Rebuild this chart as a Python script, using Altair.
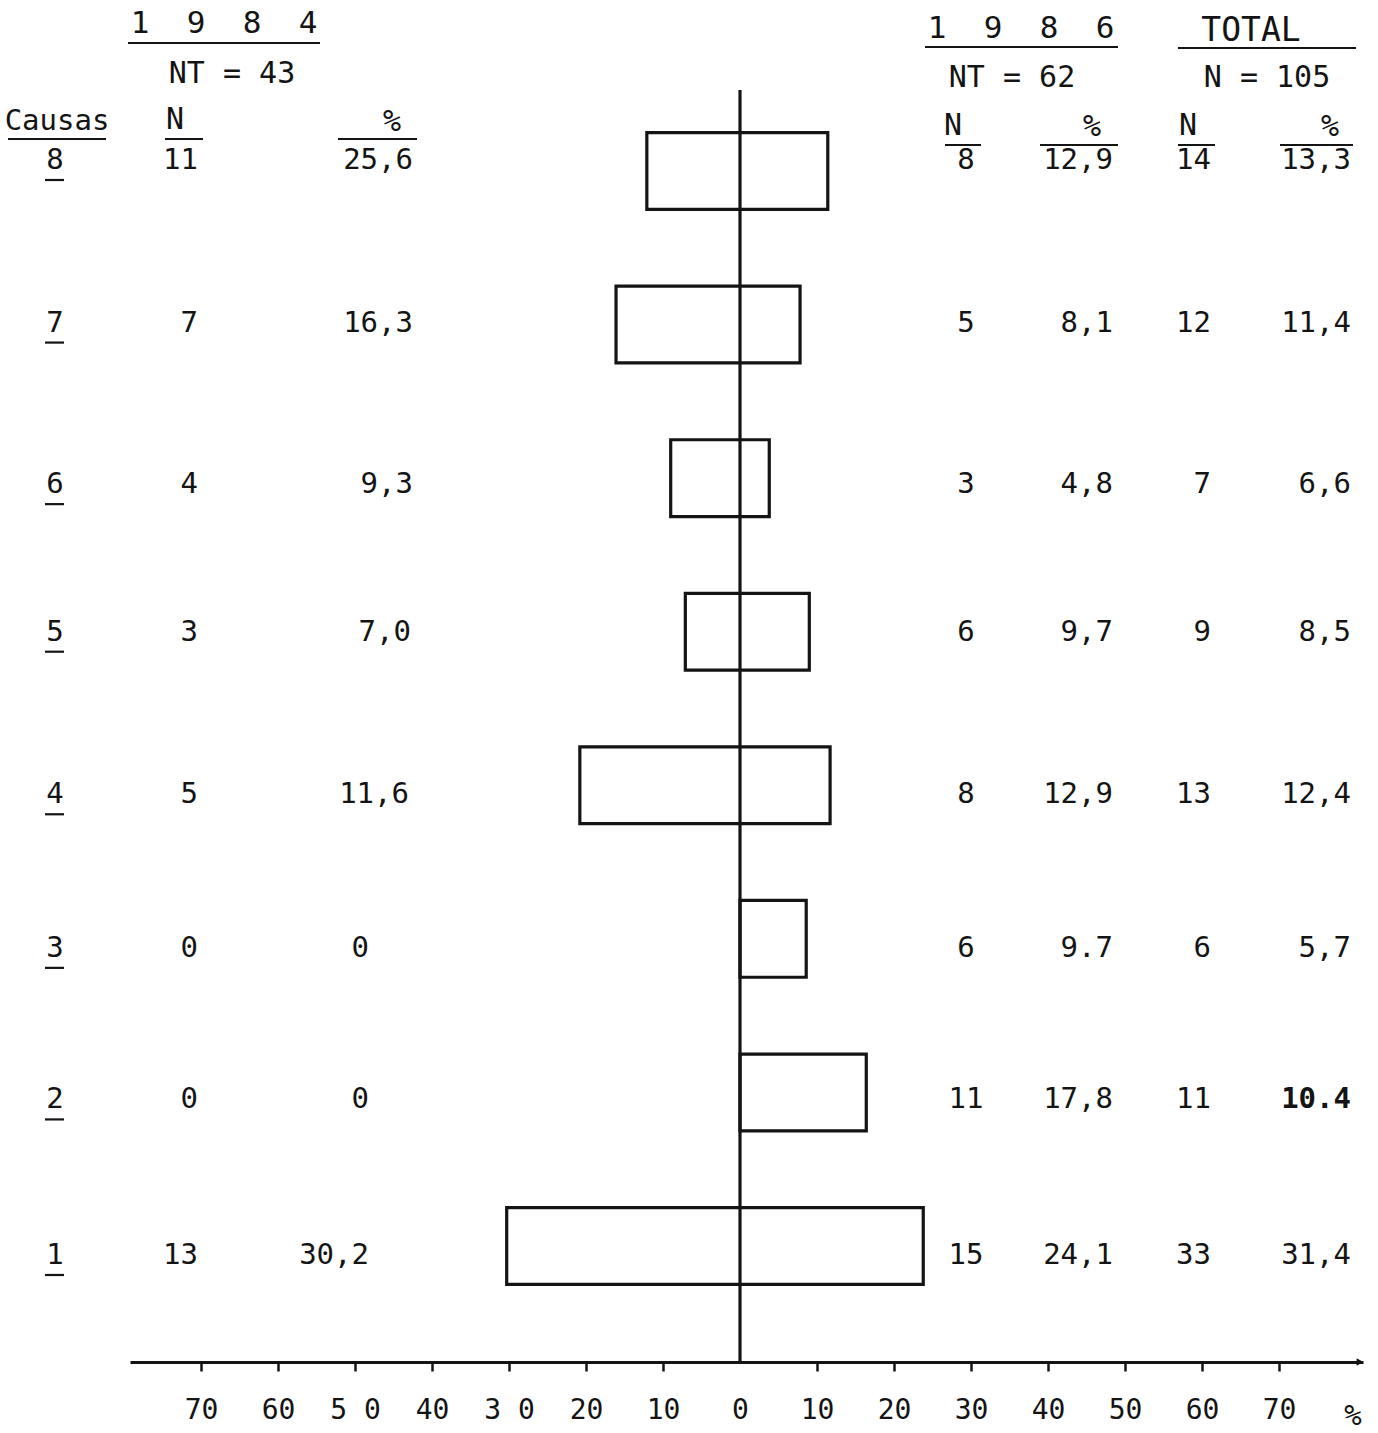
import altair as alt
import pandas as pd

# ---------------- data ----------------
causes = [8, 7, 6, 5, 4, 3, 2, 1]
n_1984 = ["11", "7", "4", "3", "5", "0", "0", "13"]
pct_1984 = ["25,6", "16,3", "9,3", "7,0", "11,6", "0", "0", "30,2"]
n_1986 = ["8", "5", "3", "6", "8", "6", "11", "15"]
pct_1986 = ["12,9", "8,1", "4,8", "9,7", "12,9", "9.7", "17,8", "24,1"]
n_total = ["14", "12", "7", "9", "13", "6", "11", "33"]
pct_total = ["13,3", "11,4", "6,6", "8,5", "12,4", "5,7", "10.4", "31,4"]
bold_total = [False, False, False, False, False, False, True, False]
# bar lengths as drawn (percent units)
bar_1984 = [12.1, 16.1, 9.0, 7.1, 20.8, 0.0, 0.0, 30.3]
bar_1986 = [11.4, 7.8, 3.8, 9.0, 11.7, 8.6, 16.4, 23.8]
tick_values = [-70, -60, -50, -40, -30, -20, -10, 0, 10, 20, 30, 40, 50, 60, 70]
NB = "\u00a0"
header_texts = [NB.join("1  9  8  4".split(" ")), "NT = 43".replace(" ", NB), "Causas", "N", "%",
                NB.join("1  9  8  6".split(" ")), "NT = 62".replace(" ", NB), "TOTAL",
                "N = 105".replace(" ", NB), "N", "%", "N", "%"]

# ---------------- layout (pixels of the page) ----------------
ZERO_PX, PPU = 740, 7.7
LEFT_PX, RIGHT_PX, AXIS_PX = 130, 1363, 1362
ROW8_PX, ROW_STEP = 171, 153.57
W, H = RIGHT_PX - LEFT_PX, AXIS_PX
FONT = "DejaVu Sans Mono"
INK = "#141414"
CELL_SIZE = 29


def xd(px):
    return (px - ZERO_PX) / PPU


def yd(px):
    return 8 - (px - ROW8_PX) / ROW_STEP


def row_px(c):
    return ROW8_PX + (8 - c) * ROW_STEP


text_dy = {8: -11, 7: -2, 6: 6, 5: 0, 4: 9, 3: 9, 2: 7, 1: 9}

xs = alt.Scale(domain=[xd(LEFT_PX), xd(RIGHT_PX)], nice=False, zero=False)
ys = alt.Scale(domain=[yd(AXIS_PX), yd(0)], nice=False, zero=False)

label_expr = ("datum.value == -50 ? '5\u00a00' : datum.value == -30 ? '3\u00a00' : "
              "format(abs(datum.value), 'd')")
x_axis = alt.Axis(
    values=tick_values, labelExpr=label_expr, title=None, grid=False,
    domain=True, domainColor=INK, domainWidth=3.2,
    ticks=True, tickColor=INK, tickWidth=2.5, tickSize=9,
    tickOpacity={"condition": {"test": "datum.value === 0", "value": 0}, "value": 1},
    labelFont=FONT, labelFontSize=28, labelColor=INK, labelPadding=25,
    labelFlush=False, labelOverlap=False)


def X(field):
    return alt.X(field, scale=xs, axis=x_axis)


def Y(field):
    return alt.Y(field, scale=ys, axis=None)


# ---------------- bars ----------------
bars_df = pd.DataFrame({
    "cause": causes,
    "left": [-v for v in bar_1984],
    "right": bar_1986,
})
bars_df["ylo"] = bars_df["cause"] - 0.25
bars_df["yhi"] = bars_df["cause"] + 0.25

bars = alt.Chart(bars_df).mark_rect(
    fill="white", fillOpacity=0, stroke=INK, strokeWidth=3.2
).encode(x=X("left:Q"), x2="right:Q", y=Y("ylo:Q"), y2="yhi:Q")

# vertical zero line
vline = alt.Chart(pd.DataFrame({"x": [0.0], "y1": [yd(90)], "y2": [yd(AXIS_PX)]})).mark_rule(
    color=INK, strokeWidth=3.2
).encode(x=X("x:Q"), y=Y("y1:Q"), y2="y2:Q")

# arrow head at right end of axis
arrow = alt.Chart(pd.DataFrame({"x": [xd(RIGHT_PX - 3)], "y": [yd(AXIS_PX)]})).mark_point(
    shape="triangle-right", filled=True, color=INK, size=60, opacity=1
).encode(x=X("x:Q"), y=Y("y:Q"))

# ---------------- table text ----------------
columns = [
    ([str(c) for c in causes], 55, "center"),
    (n_1984, 198, "right"),
    (n_1986, 966, "center"),
    (pct_1986, 1113, "right"),
    (n_total, 1211, "right"),
]
rows = []
for vals, xpx, align in columns:
    for c, v in zip(causes, vals):
        rows.append({"t": v, "x": xd(xpx), "y": yd(row_px(c) + text_dy[c]), "align": align})
pct84_right = {8: 413, 7: 413, 6: 413, 5: 411, 4: 409, 3: 369, 2: 369, 1: 369}
for c, v in zip(causes, pct_1984):
    rows.append({"t": v, "x": xd(pct84_right[c]), "y": yd(row_px(c) + text_dy[c]), "align": "right"})
cells = pd.DataFrame(rows)

tot = pd.DataFrame({
    "t": pct_total,
    "x": [xd(1351)] * 8,
    "y": [yd(row_px(c) + text_dy[c]) for c in causes],
    "b": bold_total,
})


def text_layer(df, align, size=CELL_SIZE, weight="normal"):
    return alt.Chart(df).mark_text(
        font=FONT, fontSize=size, color=INK, align=align, baseline="middle",
        fontWeight=weight
    ).encode(x=X("x:Q"), y=Y("y:Q"), text="t:N")


cell_layers = [text_layer(cells[cells["align"] == a], a) for a in ["center", "right"]]
cell_layers.append(text_layer(tot[~tot["b"]], "right"))
cell_layers.append(text_layer(tot[tot["b"]], "right", weight="bold"))

# ---------------- headers ----------------
hdr_pos = [  # x px, y px, size
    (224, 24, 31), (232, 74, 30), (57, 121, 29), (175, 120, 30), (392, 122, 30),
    (1021, 29, 31), (1012, 78, 30), (1251, 31, 33), (1267, 78, 30),
    (953, 126, 30), (1092, 127, 30), (1188, 126, 30), (1330, 127, 30),
]
hdr = pd.DataFrame({
    "t": header_texts,
    "x": [xd(p[0]) for p in hdr_pos],
    "y": [yd(p[1]) for p in hdr_pos],
    "s": [p[2] for p in hdr_pos],
})
hdr_layers = [text_layer(hdr[hdr["s"] == s], "center", size=s) for s in sorted(set(hdr["s"]))]

ul = [(128, 320, 43), (8, 106, 139), (165, 203, 139), (338, 417, 139),
      (925, 1118, 47), (1178, 1356, 48), (945, 981, 145), (1040, 1118, 145),
      (1178, 1215, 145), (1280, 1353, 145)]
ul_rows = [{"x1": xd(a), "x2": xd(b), "y": yd(y)} for a, b, y in ul]
ul_rows += [{"x1": xd(45), "x2": xd(64), "y": yd(row_px(c) + text_dy[c] + 20)} for c in causes]
underlines = alt.Chart(pd.DataFrame(ul_rows)).mark_rule(color=INK, strokeWidth=2.2).encode(
    x=X("x1:Q"), x2="x2:Q", y=Y("y:Q"))

pct_unit = text_layer(pd.DataFrame({"t": ["%"], "x": [xd(1353)], "y": [yd(1416)]}), "center", size=29)

chart = alt.layer(
    bars, vline, arrow, underlines, *cell_layers, *hdr_layers, pct_unit
).properties(
    width=W, height=H,
    padding={"left": LEFT_PX, "top": 0, "right": 1378 - RIGHT_PX, "bottom": 1433 - AXIS_PX},
    autosize=alt.AutoSizeParams(type="none"),
    background="white",
).configure_view(stroke=None)

chart.save("out.html", embed_options={"renderer": "svg", "actions": False})
